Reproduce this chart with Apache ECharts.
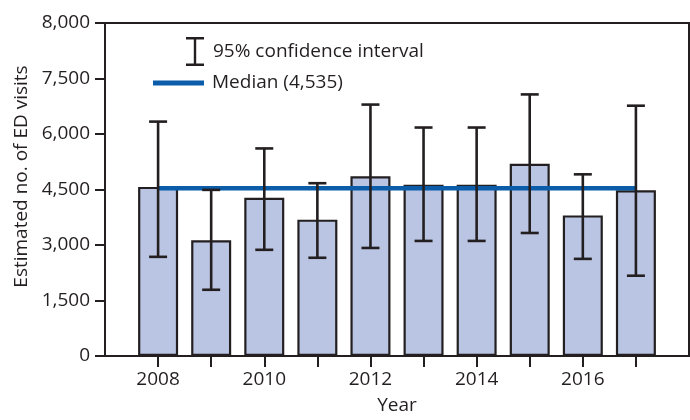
<!DOCTYPE html>
<html>
<head>
<meta charset="utf-8">
<script src="https://cdn.jsdelivr.net/npm/echarts@6/dist/echarts.min.js"></script>
<style>
html,body{margin:0;padding:0;background:#fff;}
#chart{width:690px;height:420px;}
</style>
</head>
<body>
<div id="chart"></div>
<script>
const years = [2008, 2009, 2010, 2011, 2012, 2013, 2014, 2015, 2016, 2017];
const visits = [4570, 3130, 4275, 3685, 4860, 4625, 4630, 5195, 3800, 4480];
const ciLow = [2680, 1790, 2870, 2655, 2920, 3110, 3110, 3325, 2625, 2170];
const ciHigh = [6335, 4490, 5610, 4670, 6795, 6175, 6175, 7070, 4910, 6765];
const medianValue = 4535;
const medianLabel = 'Median (4,535)';
const ciLabel = '95% confidence interval';
const xLabelYears = [2008, 2010, 2012, 2014, 2016];
const yTickLabels = ['0', '1,500', '3,000', '4,500', '6,000', '7,500', '8,000'];

const dark = '#231f20';
const font = 'Open Sans';
const chart = echarts.init(document.getElementById('chart'), null, {renderer: 'canvas'});

const option = {
  animation: false,
  backgroundColor: '#ffffff',
  textStyle: {fontFamily: font, color: dark},
  grid: {left: 105, right: 1, top: 23, bottom: 62, show: true, borderColor: dark, borderWidth: 2, backgroundColor: 'transparent'},
  legend: [
    {
      data: [{name: ciLabel, icon: 'path://M0,0H18V2.6H10.2V26.4H18V29H0V26.4H7.8V2.6H0Z', itemStyle: {color: dark, borderWidth: 0}}],
      left: 186, top: 37, padding: 0, itemWidth: 18, itemHeight: 29, selectedMode: false,
      textStyle: {fontFamily: font, fontSize: 19, color: dark, padding: [0, 0, 0, 4]}
    },
    {
      data: [{name: medianLabel, icon: 'rect', itemStyle: {color: '#0b5ca9', borderWidth: 0}}],
      left: 153, top: 73, padding: 0, itemWidth: 51, itemHeight: 5, selectedMode: false,
      textStyle: {fontFamily: font, fontSize: 19, color: dark, lineHeight: 20, padding: [0, 0, 0, 3]}
    }
  ],
  xAxis: {
    type: 'value', min: 2007, max: 2018, interval: 1,
    name: 'Year', nameLocation: 'middle', nameGap: 40,
    nameTextStyle: {fontFamily: font, fontSize: 19, color: dark},
    axisLine: {show: true, lineStyle: {color: dark, width: 2}},
    axisTick: {show: true, length: 11, lineStyle: {color: dark, width: 2}, customValues: years},
    axisLabel: {show: true, margin: 14, fontFamily: font, fontSize: 19, color: dark, customValues: xLabelYears, formatter: v => String(v)},
    splitLine: {show: false}
  },
  yAxis: {
    type: 'value', min: 0, max: 9000, interval: 1500,
    name: 'Estimated no. of ED visits', nameLocation: 'middle', nameGap: 72, nameRotate: 90,
    nameTextStyle: {fontFamily: font, fontSize: 19, color: dark, padding: [0, 0, 0, 26]},
    axisLine: {show: true, lineStyle: {color: dark, width: 2}},
    axisTick: {show: true, length: 10, lineStyle: {color: dark, width: 2}},
    axisLabel: {show: true, margin: 15, fontFamily: font, fontSize: 19, color: dark, formatter: (v, i) => yTickLabels[i]},
    splitLine: {show: false}
  },
  series: [
    {
      type: 'bar', name: 'Visits', z: 2,
      data: years.map((y, i) => [y, visits[i]]),
      barWidth: 40,
      itemStyle: {color: '#bac5e3', borderColor: dark, borderWidth: 2.2}
    },
    {
      type: 'line', name: medianLabel, z: 3,
      data: [[years[0], medianValue], [years[years.length - 1], medianValue]],
      symbol: 'none', lineStyle: {color: '#0b5ca9', width: 4.5}, itemStyle: {color: '#0b5ca9'}
    },
    {
      type: 'custom', name: ciLabel, z: 4,
      itemStyle: {color: dark},
      data: years.map((y, i) => [y, ciLow[i], ciHigh[i]]),
      encode: {x: 0, y: [1, 2]},
      renderItem: function (params, api) {
        const x = api.value(0);
        const pHi = api.coord([x, api.value(2)]);
        const pLo = api.coord([x, api.value(1)]);
        const hw = 9;
        const st = {stroke: dark, lineWidth: 2.6};
        return {
          type: 'group',
          children: [
            {type: 'line', shape: {x1: pHi[0], y1: pHi[1], x2: pLo[0], y2: pLo[1]}, style: st},
            {type: 'line', shape: {x1: pHi[0] - hw, y1: pHi[1], x2: pHi[0] + hw, y2: pHi[1]}, style: st},
            {type: 'line', shape: {x1: pLo[0] - hw, y1: pLo[1], x2: pLo[0] + hw, y2: pLo[1]}, style: st}
          ]
        };
      }
    }
  ]
};
chart.setOption(option);
</script>
</body>
</html>
